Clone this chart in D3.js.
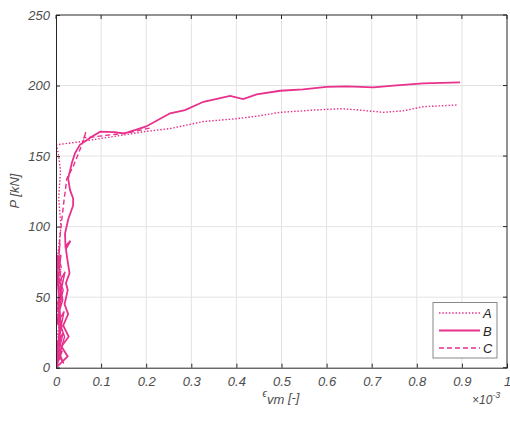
<!DOCTYPE html>
<html><head><meta charset="utf-8">
<script src="https://cdn.jsdelivr.net/npm/d3@7"></script>
<style>body{margin:0;background:#fff;}svg{display:block;font-family:"Liberation Sans",Arial,sans-serif;}</style>
</head><body><svg id="c" width="510" height="421"></svg>
<script>
// strain values in units of 1e-3, load in kN
const xTicks = [0,0.1,0.2,0.3,0.4,0.5,0.6,0.7,0.8,0.9,1];
const yTicks = [0,50,100,150,200,250];
const seriesNames = ["A","B","C"];

const aStrain = [0,0.004,0.001,0.007,0.002,0.009,0.003,0.010,0.004,0.011,0.006,0.010,0.006,0.0015,0.02,0.05,0.1,0.15,0.2,0.253,0.327,0.401,0.45,0.497,0.571,0.63,0.667,0.726,0.77,0.814,0.888];
const aLoad   = [0,10,20,30,40,50,60,70,80,100,120,140,150,158,158.8,160,162.5,165,167.5,169.5,174.5,176.5,178.5,181,182.6,183.6,182.8,181,182.1,185,186.2];

const bStrain = [0,0.026,0.012,0.028,0.016,0.027,0.019,0.026,0.022,0.030,0.026,0.022,0.032,0.021,0.020,0.027,0.038,0.038,0.031,0.027,0.035,0.042,0.053,0.079,0.098,0.13,0.15,0.18,0.2,0.253,0.286,0.327,0.386,0.415,0.445,0.497,0.548,0.6,0.645,0.704,0.755,0.814,0.896];
const bLoad   = [0,8,15,22,30,38,45,55,60,67,75,84,90,86,95,105,115,120,126,134,145,152,158,163.7,167.3,167,166,169,171,180.3,182.6,188.5,192.6,190.4,193.7,196.3,197.3,199.1,199.4,198.7,200.1,201.5,202.2];

const cStrain = [0,0.012,0.003,0.014,0.005,0.013,0.004,0.012,0.006,0.010,0.017,0.024,0.038,0.050,0.061,0.066,0.062,0.08,0.12,0.16,0.21];
const cLoad   = [0,10,20,30,40,50,60,70,80,97,116.5,134,142.5,152,161,167,163,163.5,165,166.5,170];

// extra cyclic loops near the origin (hand-read)
const loopStrain = [0,0.014,0.002,0.016,0.004,0.018,0.001,0.013,0.005,0.020,0.003,0.011,0.001,0.008,0.015,0.004,0.019,0.007,0.017,0.002,0.012,0.006,0.016,0.003,0.010,0.001];
const loopLoad   = [0,12,5,25,18,40,30,52,45,68,58,80,70,62,48,36,22,8,3,15,28,42,55,66,35,2];
const loop2Strain = [0.002,0.010,0.004,0.012,0.003,0.009,0.005,0.014,0.002,0.011,0.004,0.008,0.006,0.003];
const loop2Load   = [2,20,35,50,64,88,74,60,44,30,14,6,40,80];

const W=510,H=421;
const m={l:56,t:15,b:367.7};
const x=d3.scaleLinear().domain([0,1]).range([m.l,507]);
const y=d3.scaleLinear().domain([0,250]).range([m.b,m.t]);
const svg=d3.select("#c");
const col="#e8308c";
const txt="#4d4d4d";

// grid
svg.append("g").selectAll("line").data(xTicks.slice(1,-1)).join("line")
  .attr("x1",d=>x(d)).attr("x2",d=>x(d)).attr("y1",m.t).attr("y2",m.b)
  .attr("stroke","#e3e3e3").attr("stroke-width",1);
svg.append("g").selectAll("line").data(yTicks.slice(1,-1)).join("line")
  .attr("y1",d=>y(d)).attr("y2",d=>y(d)).attr("x1",x(0)).attr("x2",x(1))
  .attr("stroke","#e3e3e3").attr("stroke-width",1);

svg.append("clipPath").attr("id","cl").append("rect")
  .attr("x",x(0)).attr("y",m.t).attr("width",x(1)-x(0)).attr("height",m.b-m.t);

const line=d3.line().x(d=>x(d[0])).y(d=>y(d[1])).curve(d3.curveLinear);
const zip=(a,b)=>a.map((v,i)=>[v,b[i]]);
const g=svg.append("g").attr("clip-path","url(#cl)");
g.append("path").datum(zip(loopStrain,loopLoad)).attr("d",line).attr("fill","none").attr("stroke",col).attr("stroke-width",1.4);
g.append("path").datum(zip(loop2Strain,loop2Load)).attr("d",line).attr("fill","none").attr("stroke",col).attr("stroke-width",1.2);
g.append("path").datum(zip(aStrain,aLoad)).attr("d",line).attr("fill","none").attr("stroke",col).attr("stroke-width",1.4).attr("stroke-dasharray","1.5,1.8");
g.append("path").datum(zip(cStrain,cLoad)).attr("d",line).attr("fill","none").attr("stroke",col).attr("stroke-width",1.4).attr("stroke-dasharray","5,3");
g.append("path").datum(zip(bStrain,bLoad)).attr("d",line).attr("fill","none").attr("stroke",col).attr("stroke-width",1.8);

// axes box
const xa=d3.axisBottom(x).tickValues(xTicks).tickSize(-4).tickFormat(d=>d===0?"0":d===1?"1":d3.format(".1f")(d)).tickPadding(9);
const ya=d3.axisLeft(y).tickValues(yTicks).tickSize(-4).tickPadding(6);
const gx=svg.append("g").attr("transform",`translate(0,${m.b})`).call(xa);
const gy=svg.append("g").attr("transform",`translate(${x(0)},0)`).call(ya);
[gx,gy].forEach(a=>{a.select(".domain").attr("stroke","#262626");a.selectAll(".tick line").attr("stroke","#262626");
  a.selectAll("text").attr("fill",txt).attr("font-size",13).attr("font-style","italic");});
svg.append("line").attr("x1",x(0)).attr("x2",x(1)).attr("y1",m.t).attr("y2",m.t).attr("stroke","#262626");
svg.append("line").attr("x1",x(1)).attr("x2",x(1)).attr("y1",m.t).attr("y2",m.b).attr("stroke","#262626");
svg.append("g").selectAll("line").data(xTicks).join("line").attr("x1",d=>x(d)).attr("x2",d=>x(d)).attr("y1",m.t).attr("y2",m.t+4).attr("stroke","#262626");
svg.append("g").selectAll("line").data(yTicks).join("line").attr("x1",x(1)).attr("x2",x(1)-4).attr("y1",d=>y(d)).attr("y2",d=>y(d)).attr("stroke","#262626");

// labels
const xl=svg.append("text").attr("x",281).attr("y",402).attr("text-anchor","middle").attr("fill",txt).attr("font-size",13).attr("font-style","italic");
xl.append("tspan").text("ϵ").attr("font-size",10).attr("dy",-5);
xl.append("tspan").text("vm").attr("dy",7);
xl.append("tspan").text(" [-]").attr("dy",-2);
const ex=svg.append("text").attr("x",472).attr("y",404).attr("fill",txt).attr("font-size",12).attr("font-style","italic");
ex.append("tspan").text("×10");
ex.append("tspan").text("-3").attr("font-size",9).attr("dy",-6);
svg.append("text").attr("transform","translate(19,191) rotate(-90)").attr("text-anchor","middle")
  .attr("fill",txt).attr("font-size",13).attr("font-style","italic").text("P [kN]");

// legend
const lg=svg.append("g");
lg.append("rect").attr("x",433).attr("y",302.5).attr("width",64).attr("height",55.5).attr("fill","#fff").attr("stroke","#888").attr("stroke-width",1);
const dash=["1.5,1.8",null,"5,3"], sw=[1.4,1.8,1.4];
seriesNames.forEach((n,i)=>{
  const yy=313+i*17.5;
  lg.append("line").attr("x1",439).attr("x2",480).attr("y1",yy).attr("y2",yy).attr("stroke",col).attr("stroke-width",sw[i]).attr("stroke-dasharray",dash[i]);
  lg.append("text").attr("x",483).attr("y",yy+5).attr("fill","#262626").attr("font-size",13).attr("font-style","italic").text(n);
});
</script></body></html>
